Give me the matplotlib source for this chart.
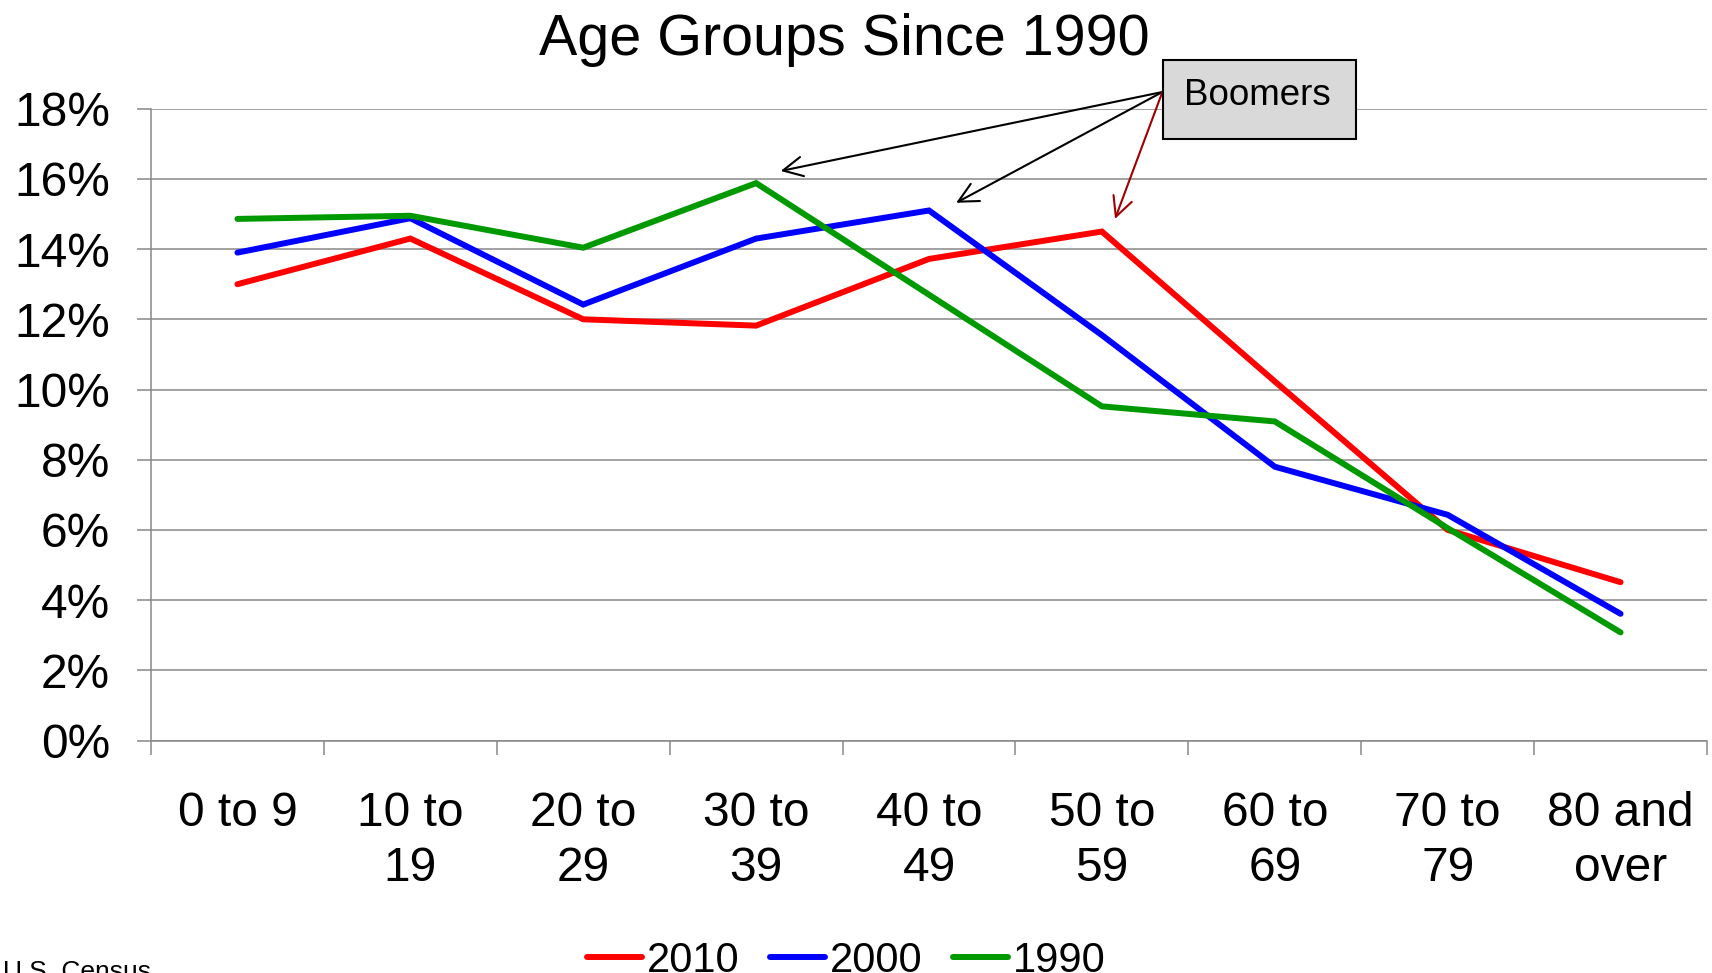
import matplotlib
matplotlib.use("Agg")
import matplotlib.pyplot as plt
from matplotlib.patches import Rectangle
import numpy as np

plt.rcParams['font.family'] = ['Liberation Sans', 'DejaVu Sans']

categories = ["0 to 9", "10 to\n19", "20 to\n29", "30 to\n39", "40 to\n49",
              "50 to\n59", "60 to\n69", "70 to\n79", "80 and\nover"]
y2010 = [13.0, 14.3, 12.0, 11.82, 13.72, 14.5, 10.23, 6.0, 4.51]
y2000 = [13.9, 14.88, 12.42, 14.3, 15.1, 11.55, 7.8, 6.43, 3.61]
y1990 = [14.86, 14.95, 14.04, 15.88, 12.7, 9.52, 9.09, 6.05, 3.08]
series_labels = ["2010", "2000", "1990"]
series_colors = ["#FF0000", "#0000FF", "#009900"]
yticks = [0, 2, 4, 6, 8, 10, 12, 14, 16, 18]
ytick_labels = ["0%", "2%", "4%", "6%", "8%", "10%", "12%", "14%", "16%", "18%"]
title = "Age Groups Since 1990"

W, H = 1712, 973
fig = plt.figure(figsize=(W / 100, H / 100), dpi=100)
ax = fig.add_axes([151 / W, (H - 740.5) / H, (1707 - 151) / W, (740.5 - 108.7) / H])

x = np.arange(len(categories))
lines = []
for vals, lab, col in zip([y2010, y2000, y1990], series_labels, series_colors):
    ln, = ax.plot(x, vals, color=col, lw=4.3, solid_capstyle='round',
                  solid_joinstyle='miter', label=lab, zorder=3)
    lines.append(ln)

grid_col = "#888888"
ax.set_xlim(-0.5, len(categories) - 0.5)
ax.set_ylim(0, 18)
ax.set_yticks(yticks)
ax.set_yticklabels(ytick_labels)
ax.yaxis.grid(True, color=grid_col, lw=1.1)
ax.set_axisbelow(True)
ax.set_xticks(np.arange(-0.5, len(categories), 1.0))
ax.set_xticklabels([])
ax.set_xticks(x, minor=True)
ax.set_xticklabels(categories, minor=True, fontsize=34.5, linespacing=1.3)
ax.tick_params(axis='x', which='major', length=10, width=1.1, color=grid_col)
ax.tick_params(axis='x', which='minor', length=0, pad=36)
ax.tick_params(axis='y', which='major', length=10, width=1.1, color=grid_col,
               labelsize=34.5, pad=19.5)
for s in ['top', 'right']:
    ax.spines[s].set_visible(False)
for s in ['left', 'bottom']:
    ax.spines[s].set_color(grid_col)
    ax.spines[s].set_linewidth(1.1)

fig.text(844 / W, (H - 55) / H, title, ha='center', va='baseline', fontsize=41.4)

# Boomers callout
fig.add_artist(Rectangle((1163 / W, (H - 139) / H), 193 / W, 79 / H,
                         transform=fig.transFigure, facecolor='#D9D9D9',
                         edgecolor='black', lw=1.5, zorder=5))
fig.text(1257.5 / W, (H - 105) / H, "Boomers", ha='center', va='baseline',
         fontsize=26.5, zorder=6)

origin = (5.35, 18.476)
tips = [((3.142, 16.225), 'black'), ((4.157, 15.32), 'black'), ((5.076, 14.86), '#A00000')]
for tip, col in tips:
    ax.annotate("", xy=tip, xytext=origin, xycoords='data', textcoords='data',
                annotation_clip=False,
                arrowprops=dict(arrowstyle="->,head_length=0.7,head_width=0.35",
                                color=col, lw=1.5, shrinkA=0, shrinkB=0,
                                mutation_scale=20))

fig.legend(handles=lines, labels=series_labels, loc='center',
           bbox_to_anchor=(846.5 / W, (H - 961) / H), ncol=3, frameon=False,
           fontsize=30, handlelength=1.32, handletextpad=0.11,
           columnspacing=0.74, borderpad=0, borderaxespad=0)

fig.text(3 / W, (H - 979) / H, "U.S. Census", ha='left', va='baseline', fontsize=19)

fig.savefig("out.png", dpi=100)
